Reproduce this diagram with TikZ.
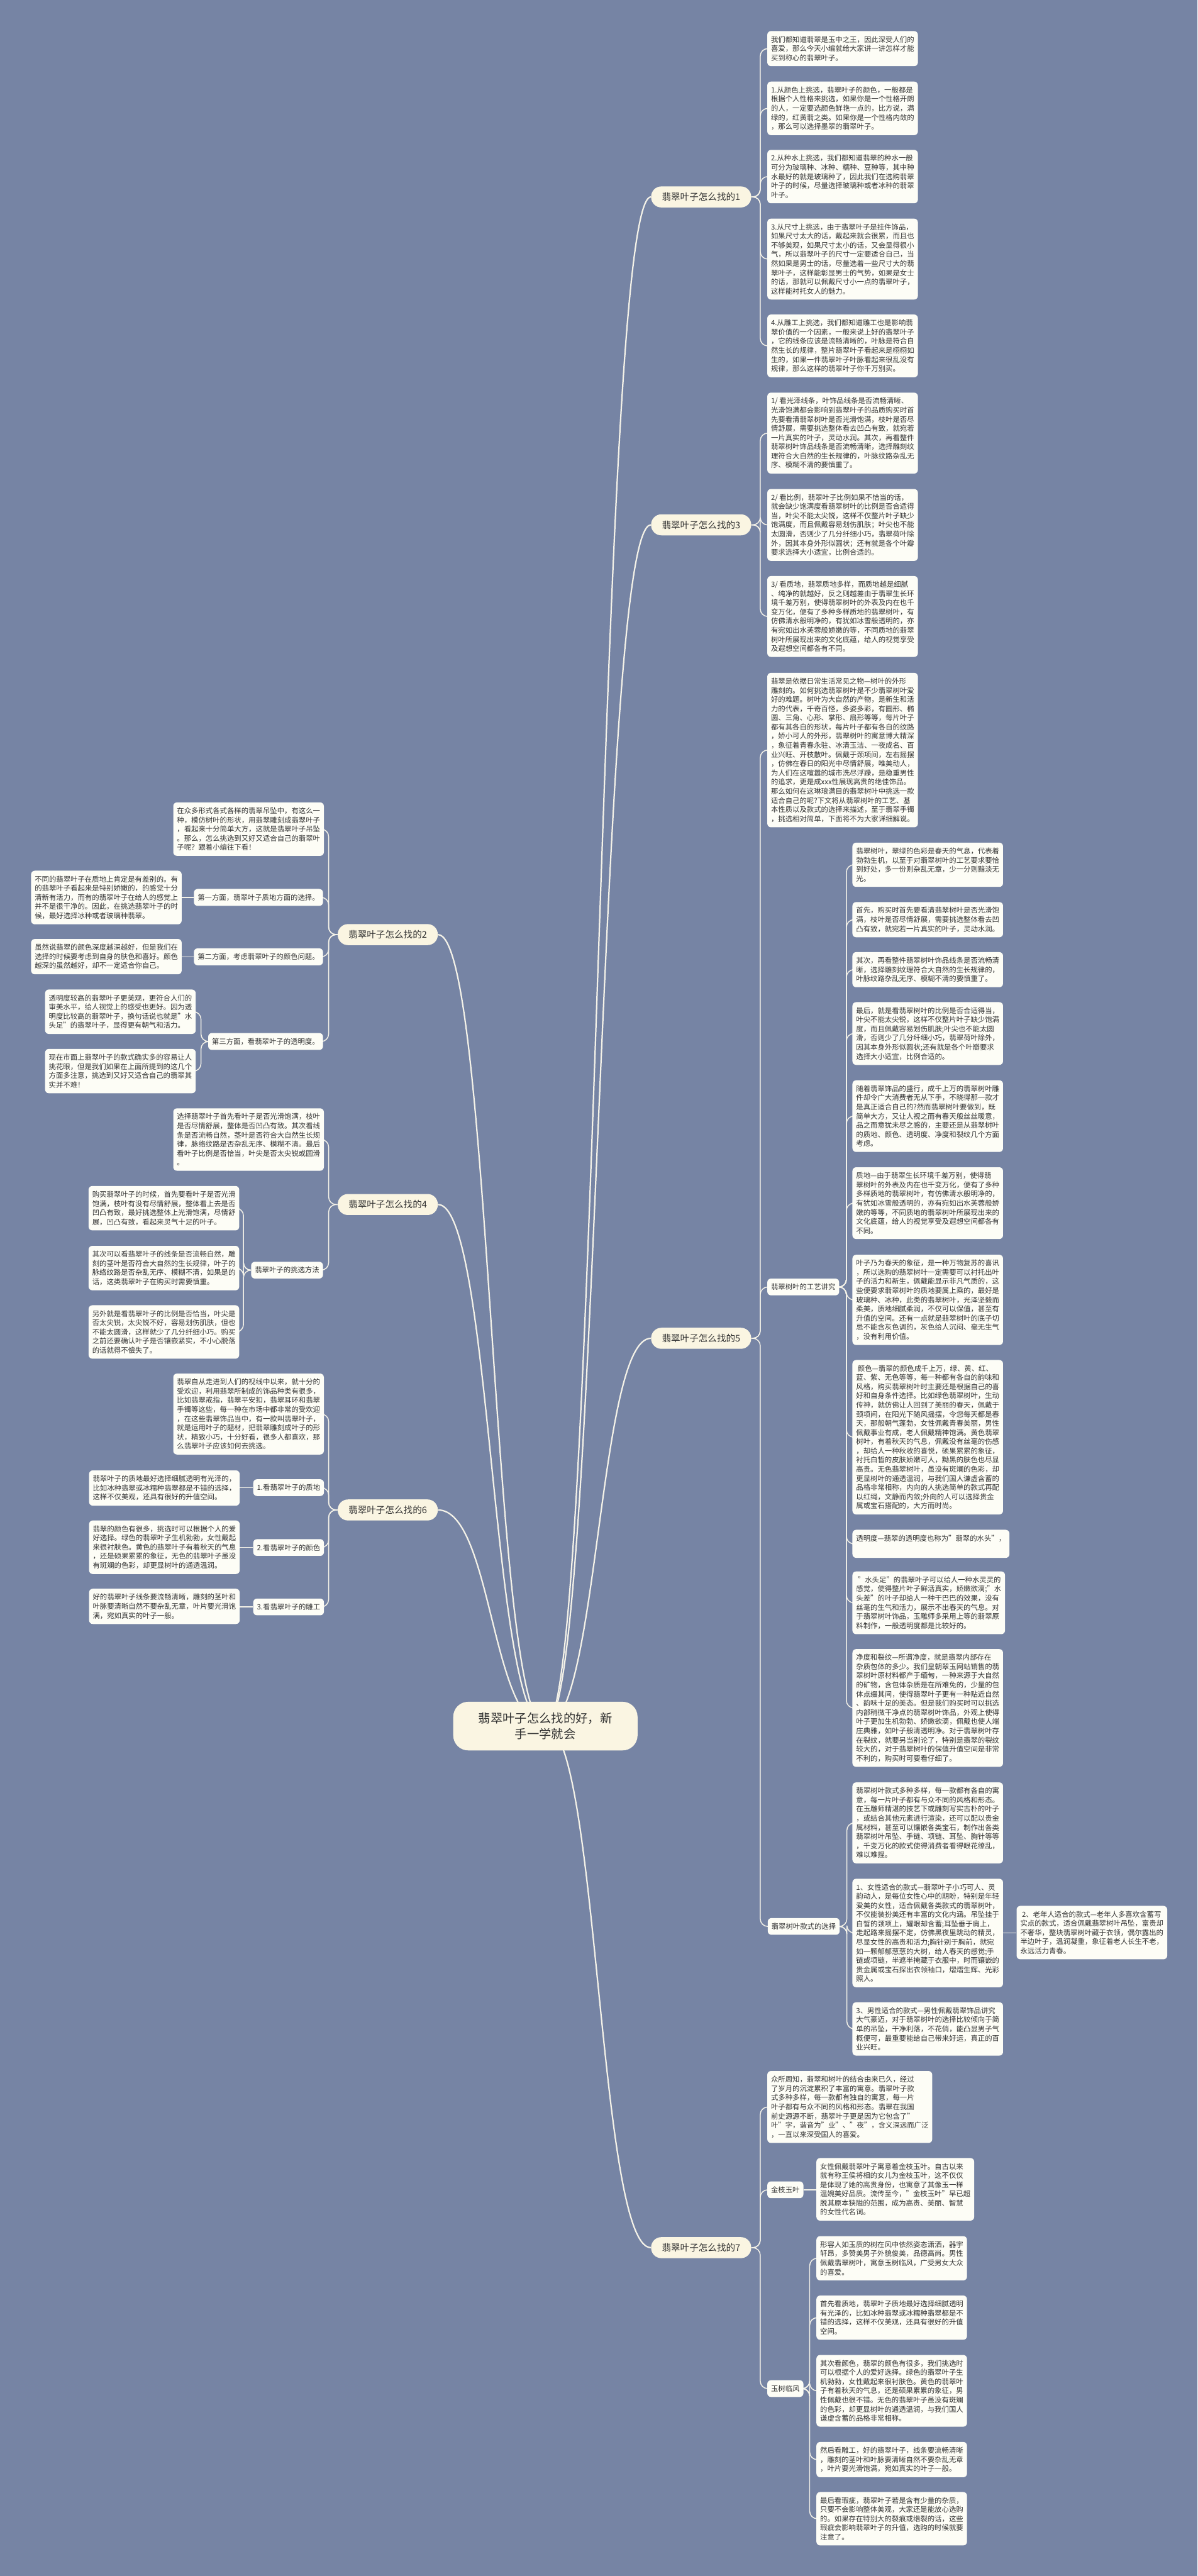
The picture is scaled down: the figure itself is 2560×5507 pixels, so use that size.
\documentclass[tikz,border=0pt]{standalone}
\usepackage{fontspec}
\setmainfont{Noto Sans CJK SC}
\usetikzlibrary{calc}
\pgfdeclarelayer{bg}
\pgfsetlayers{bg,main}
\definecolor{bgc}{RGB}{118,132,164}
\definecolor{boxc}{RGB}{253,253,246}
\definecolor{brc}{RGB}{250,245,226}
\definecolor{linec}{RGB}{244,242,232}
\definecolor{txt}{RGB}{50,50,50}
\newcommand\fsbox{\fontsize{7.65pt}{9.8pt}\selectfont}
\newcommand\fsbr{\fontsize{9.8pt}{12pt}\selectfont}
\newcommand\fsroot{\fontsize{13pt}{17pt}\selectfont}
\tikzset{
 box/.style={fill=boxc, rounded corners=4pt, align=left, text=txt, font=\fsbox, inner xsep=4pt, inner ysep=5.4pt, anchor=north west, minimum width=161pt},
 labr/.style={fill=boxc, rounded corners=4pt, text=txt, font=\fsbox, inner xsep=4pt, inner ysep=5.4pt, anchor=north west},
 labl/.style={labr, anchor=north east},
 br/.style={fill=brc, rounded corners=11pt, text=txt, font=\fsbr, inner xsep=6pt, inner ysep=6.5pt, minimum width=107pt, minimum height=22.5pt},
 rootn/.style={fill=brc, rounded corners=16pt, text=txt, font=\fsroot, align=center, minimum width=197pt, minimum height=52pt},
 conn/.style={draw=linec, line width=1pt, rounded corners=8pt},
 rconn/.style={draw=linec, line width=1.5pt},
}
\begin{document}
\begin{tikzpicture}[x=0.5pt,y=-0.5pt]
\useasboundingbox (0,0) rectangle (2560,5507);
% root and main branches
\node[rootn] (root) at (1166,3690) {翡翠叶子怎么找的好，新\\手一学就会};
\node[br] (b1) at (1499,421) {翡翠叶子怎么找的1};
\node[br] (b3) at (1499,1122) {翡翠叶子怎么找的3};
\node[br] (b5) at (1499,2861) {翡翠叶子怎么找的5};
\node[br] (b7) at (1499,4805) {翡翠叶子怎么找的7};
\node[br] (b2) at (829,1998) {翡翠叶子怎么找的2};
\node[br] (b4) at (829,2575) {翡翠叶子怎么找的4};
\node[br] (b6) at (829,3228) {翡翠叶子怎么找的6};
% ---------- branch 1
\node[box] (r1a) at (1640,66) {我们都知道翡翠是玉中之王，因此深受人们的\\喜爱，那么今天小编就给大家讲一讲怎样才能\\买到称心的翡翠叶子。};
\node[box] (r1b) at (1640,174) {1.从颜色上挑选，翡翠叶子的颜色，一般都是\\根据个人性格来挑选，如果你是一个性格开朗\\的人，一定要选颜色鲜艳一点的，比方说，满\\绿的，红黄翡之类。如果你是一个性格内敛的\\，那么可以选择墨翠的翡翠叶子。};
\node[box] (r1c) at (1640,320) {2.从种水上挑选，我们都知道翡翠的种水一般\\可分为玻璃种、冰种、糯种、豆种等，其中种\\水最好的就是玻璃种了，因此我们在选购翡翠\\叶子的时候，尽量选择玻璃种或者冰种的翡翠\\叶子。};
\node[box] (r1d) at (1640,467) {3.从尺寸上挑选，由于翡翠叶子是挂件饰品，\\如果尺寸太大的话，戴起来就会很累，而且也\\不够美观，如果尺寸太小的话，又会显得很小\\气，所以翡翠叶子的尺寸一定要适合自己，当\\然如果是男士的话，尽量选着一些尺寸大的翡\\翠叶子，这样能彰显男士的气势，如果是女士\\的话，那就可以佩戴尺寸小一点的翡翠叶子，\\这样能衬托女人的魅力。};
\node[box] (r1e) at (1640,672) {4.从雕工上挑选，我们都知道雕工也是影响翡\\翠价值的一个因素，一般来说上好的翡翠叶子\\，它的线条应该是流畅清晰的，叶脉是符合自\\然生长的规律，整片翡翠叶子看起来是栩栩如\\生的，如果一件翡翠叶子叶脉看起来很乱没有\\规律，那么这样的翡翠叶子你千万别买。};
% ---------- branch 3
\node[box] (r3a) at (1640,839) {1/ 看光泽线条，叶饰品线条是否流畅清晰、\\光滑饱满都会影响到翡翠叶子的品质购买时首\\先要看清翡翠树叶是否光滑饱满，枝叶是否尽\\情舒展，需要挑选整体看去凹凸有致，就宛若\\一片真实的叶子，灵动水润。其次，再看整件\\翡翠树叶饰品线条是否流畅清晰，选择雕刻纹\\理符合大自然的生长规律的，叶脉纹路杂乱无\\序、模糊不清的要慎重了。};
\node[box] (r3b) at (1640,1045) {2/ 看比例，翡翠叶子比例如果不恰当的话，\\就会缺少饱满度看翡翠树叶的比例是否合适得\\当，叶尖不能太尖锐，这样不仅整片叶子缺少\\饱满度，而且佩戴容易划伤肌肤；叶尖也不能\\太圆滑，否则少了几分纤细小巧，翡翠荷叶除\\外，因其本身外形似圆状；还有就是各个叶瓣\\要求选择大小适宜，比例合适的。};
\node[box] (r3c) at (1640,1231) {3/ 看质地，翡翠质地多样，而质地越是细腻\\、纯净的就越好，反之则越差由于翡翠生长环\\境千差万别，使得翡翠树叶的外表及内在也千\\变万化，便有了多种多样质地的翡翠树叶，有\\仿佛清水般明净的，有犹如冰雪般透明的，亦\\有宛如出水芙蓉般娇嫩的等，不同质地的翡翠\\树叶所展现出来的文化底蕴，给人的视觉享受\\及遐想空间都各有不同。};
% ---------- branch 5
\node[box] (r5a) at (1640,1438) {翡翠是依据日常生活常见之物—树叶的外形\\雕刻的。如何挑选翡翠树叶是不少翡翠树叶爱\\好的难题。树叶为大自然的产物，是新生和活\\力的代表，千奇百怪，多姿多彩，有圆形、椭\\圆、三角、心形、掌形、扇形等等，每片叶子\\都有其各自的形状，每片叶子都有各自的纹路\\，娇小可人的外形，翡翠树叶的寓意博大精深\\，象征着青春永驻、冰清玉洁、一夜成名、百\\业兴旺、开枝散叶。佩戴于颈项间，左右摇摆\\，仿佛在春日的阳光中尽情舒展，唯美动人，\\为人们在这喧嚣的城市洗尽浮躁，是稳重男性\\的追求，更是成xxx性展现高贵的绝佳饰品。\\那么如何在这琳琅满目的翡翠树叶中挑选一款\\适合自己的呢?下文将从翡翠树叶的工艺、基\\本性质以及款式的选择来描述，至于翡翠手镯\\，挑选相对简单，下面将不为大家详细解说。};
\node[labr] (g) at (1640,2733) {翡翠树叶的工艺讲究};
\node[box] (s1) at (1822,1801) {翡翠树叶，翠绿的色彩是春天的气息，代表着\\勃勃生机，以至于对翡翠树叶的工艺要求要恰\\到好处，多一份则杂乱无章，少一分则黯淡无\\光。};
\node[box] (s2) at (1822,1928) {首先，购买时首先要看清翡翠树叶是否光滑饱\\满，枝叶是否尽情舒展，需要挑选整体看去凹\\凸有致，就宛若一片真实的叶子，灵动水润。};
\node[box] (s3) at (1822,2035) {其次，再看整件翡翠树叶饰品线条是否流畅清\\晰，选择雕刻纹理符合大自然的生长规律的，\\叶脉纹路杂乱无序、模糊不清的要慎重了。};
\node[box] (s4) at (1822,2142) {最后，就是看翡翠树叶的比例是否合适得当，\\叶尖不能太尖锐，这样不仅整片叶子缺少饱满\\度，而且佩戴容易划伤肌肤;叶尖也不能太圆\\滑，否则少了几分纤细小巧，翡翠荷叶除外，\\因其本身外形似圆状;还有就是各个叶瓣要求\\选择大小适宜，比例合适的。};
\node[box] (s5) at (1822,2309) {随着翡翠饰品的盛行，成千上万的翡翠树叶雕\\件却令广大消费者无从下手，不晓得那一款才\\是真正适合自己的?然而翡翠树叶要做到，既\\简单大方，又让人视之而有春天般丝丝暖意，\\品之而意犹未尽之感的，主要还是从翡翠树叶\\的质地、颜色、透明度、净度和裂纹几个方面\\考虑。};
\node[box] (s6) at (1822,2495) {质地—由于翡翠生长环境千差万别，使得翡\\翠树叶的外表及内在也千变万化，便有了多种\\多样质地的翡翠树叶，有仿佛清水般明净的，\\有犹如冰雪般透明的，亦有宛如出水芙蓉般娇\\嫩的等等，不同质地的翡翠树叶所展现出来的\\文化底蕴，给人的视觉享受及遐想空间都各有\\不同。};
\node[box] (s7) at (1822,2682) {叶子乃为春天的象征，是一种万物复苏的喜讯\\，所以选购的翡翠树叶一定需要可以衬托出叶\\子的活力和新生，佩戴能显示非凡气质的，这\\些便要求翡翠树叶的质地要属上乘的，最好是\\玻璃种、冰种，此类的翡翠树叶，光泽坚毅而\\柔美，质地细腻柔润，不仅可以保值，甚至有\\升值的空间。还有一点就是翡翠树叶的底子切\\忌不能含灰色调的，灰色给人沉闷、毫无生气\\，没有利用价值。};
\node[box] (s8) at (1822,2907) {\ 颜色—翡翠的颜色成千上万，绿、黄、红、\\蓝、紫、无色等等，每一种都有各自的韵味和\\风格，购买翡翠树叶时主要还是根据自己的喜\\好和自身条件选择。比如绿色翡翠树叶，生动\\传神，就仿佛让人回到了美丽的春天，佩戴于\\颈项间，在阳光下随风摇摆，令您每天都是春\\天，那般朝气蓬勃，女性佩戴青春美丽，男性\\佩戴事业有成，老人佩戴精神饱满。黄色翡翠\\树叶，有着秋天的气息，佩戴没有丝毫的伤感\\，却给人一种秋收的喜悦，硕果累累的象征，\\衬托白皙的皮肤娇嫩可人，黝黑的肤色也尽显\\高贵。无色翡翠树叶，虽没有斑斓的色彩，却\\更显树叶的通透温润，与我们国人谦虚含蓄的\\品格非常相称，内向的人挑选简单的款式再配\\以红绳，文静而内敛;外向的人可以选择贵金\\属或宝石搭配的，大方而时尚。};
\node[box] (s9) at (1822,3270) {透明度—翡翠的透明度也称为"翡翠的水头"，\\\strut};
\node[box] (s10) at (1822,3359) {\ "水头足"的翡翠叶子可以给人一种水灵灵的\\感觉，使得整片叶子鲜活真实，娇嫩欲滴;"水\\头差"的叶子却给人一种干巴巴的效果，没有\\丝毫的生气和活力，展示不出春天的气息。对\\于翡翠树叶饰品，玉雕师多采用上等的翡翠原\\料制作，一般透明度都是比较好的。};
\node[box] (s11) at (1822,3525) {净度和裂纹—所谓净度，就是翡翠内部存在\\杂质包体的多少。我们皇朝翠玉网站销售的翡\\翠树叶原材料都产于缅甸，一种来源于大自然\\的矿物，含包体杂质是在所难免的，少量的包\\体点缀其间，使得翡翠叶子更有一种贴近自然\\、韵味十足的美态。但是我们购买时可以挑选\\内部稍微干净点的翡翠树叶饰品，外观上使得\\叶子更加生机勃勃、娇嫩欲滴，佩戴也使人端\\庄典雅，如叶子般清透明净。对于翡翠树叶存\\在裂纹，就要另当别论了，特别是翡翠的裂纹\\较大的，对于翡翠树叶的保值升值空间是非常\\不利的，购买时可要看仔细了。};
\node[labr] (k) at (1641,4100) {翡翠树叶款式的选择};
\node[box] (k1) at (1822,3810) {翡翠树叶款式多种多样，每一款都有各自的寓\\意，每一片叶子都有与众不同的风格和形态。\\在玉雕师精湛的技艺下或雕刻写实古朴的叶子\\，或结合其他元素进行渲染，还可以配以贵金\\属材料，甚至可以镶嵌各类宝石，制作出各类\\翡翠树叶吊坠、手链、项链、耳坠、胸针等等\\，千变万化的款式使得消费者看得眼花缭乱，\\难以难捏。};
\node[box] (k2) at (1822,4016) {1、女性适合的款式—翡翠叶子小巧可人、灵\\韵动人，是每位女性心中的期盼，特别是年轻\\爱美的女性，适合佩戴各类款式的翡翠树叶，\\不仅能装扮美还有丰富的文化内涵。吊坠挂于\\白皙的颈项上，耀眼却含蓄;耳坠垂于肩上，\\走起路来摇摆不定，仿佛黑夜里跳动的精灵，\\尽显女性的高贵和活力;胸针别于胸前，就宛\\如一颗郁郁葱葱的大树，给人春天的感觉;手\\链或项链，半遮半掩藏于衣服中，时而镶嵌的\\贵金属或宝石探出衣领袖口，熠熠生辉、光彩\\照人。};
\node[box] (k2c) at (2173,4074) {\ 2、老年人适合的款式—老年人多喜欢含蓄写\\实点的款式，适合佩戴翡翠树叶吊坠，富贵却\\不奢华，整块翡翠树叶藏于衣领，偶尔露出的\\半边叶子，温润凝重，象征着老人长生不老，\\永远活力青春。};
\node[box] (k3) at (1822,4280) {3、男性适合的款式—男性佩戴翡翠饰品讲究\\大气豪迈，对于翡翠树叶的选择比较倾向于简\\单的吊坠，干净利落，不花俏，能凸显男子气\\概便可，最重要能给自己带来好运，真正的百\\业兴旺。};
% ---------- branch 7
\node[box] (r7a) at (1640,4427) {众所周知，翡翠和树叶的结合由来已久，经过\\了岁月的沉淀累积了丰富的寓意。翡翠叶子款\\式多种多样，每一款都有独自的寓意，每一片\\叶子都有与众不同的风格和形态。翡翠在我国\\前史源源不断，翡翠叶子更是因为它包含了"\\叶"字，谐音为"业"、"夜"，含义深远而广泛\\，一直以来深受国人的喜爱。};
\node[labr] (j) at (1640,4663) {金枝玉叶};
\node[box] (j1) at (1745,4613) {女性佩戴翡翠叶子寓意着金枝玉叶。自古以来\\就有称王侯将相的女儿为金枝玉叶，这不仅仅\\是体现了她的高贵身份，也寓意了其像玉一样\\温婉美好品质。流传至今，"金枝玉叶"早已超\\脱其原本狭隘的范围，成为高贵、美丽、智慧\\的女性代名词。};
\node[labr] (y) at (1640,5088) {玉树临风};
\node[box] (y1) at (1745,4780) {形容人如玉质的树在风中依然姿态潇洒，器宇\\轩昂，多赞美男子外貌俊美，品德高尚。男性\\佩戴翡翠树叶，寓意玉树临风，广受男女大众\\的喜爱。};
\node[box] (y2) at (1745,4907) {首先看质地，翡翠叶子质地最好选择细腻透明\\有光泽的，比如冰种翡翠或冰糯种翡翠都是不\\错的选择，这样不仅美观，还具有很好的升值\\空间。};
\node[box] (y3) at (1745,5034) {其次看颜色，翡翠的颜色有很多，我们挑选时\\可以根据个人的爱好选择。绿色的翡翠叶子生\\机勃勃，女性戴起来很衬肤色。黄色的翡翠叶\\子有着秋天的气息，还是硕果累累的象征，男\\性佩戴也很不错。无色的翡翠叶子虽没有斑斓\\的色彩，却更显树叶的通透温润，与我们国人\\谦虚含蓄的品格非常相称。};
\node[box] (y4) at (1745,5220) {然后看雕工，好的翡翠叶子，线条要流畅清晰\\，雕刻的茎叶和叶脉要清晰自然不要杂乱无章\\，叶片要光滑饱满，宛如真实的叶子一般。};
\node[box] (y5) at (1745,5327) {最后看瑕疵，翡翠叶子若是含有少量的杂质，\\只要不会影响整体美观，大家还是能放心选购\\的。如果存在特别大的裂痕或绺裂的话，这些\\瑕疵会影响翡翠叶子的升值，选购的时候就要\\注意了。};
% ---------- branch 2
\node[box] (l2a) at (370,1715) {在众多形式各式各样的翡翠吊坠中，有这么一\\种，模仿树叶的形状，用翡翠雕刻成翡翠叶子\\，看起来十分简单大方，这就是翡翠叶子吊坠\\。那么，怎么挑选到又好又适合自己的翡翠叶\\子呢？跟着小编往下看！};
\node[labl] (f1) at (691,1900) {第一方面，翡翠叶子质地方面的选择。};
\node[box] (f1c) at (66,1861) {不同的翡翠叶子在质地上肯定是有差别的。有\\的翡翠叶子看起来是特别娇嫩的，的感觉十分\\清新有活力，而有的翡翠叶子在给人的感觉上\\并不是很干净的。因此，在挑选翡翠叶子的时\\候，最好选择冰种或者玻璃种翡翠。};
\node[labl] (f2) at (691,2027) {第二方面，考虑翡翠叶子的颜色问题。};
\node[box] (f2c) at (66,2007) {虽然说翡翠的颜色深度越深越好，但是我们在\\选择的时候要考虑到自身的肤色和喜好。颜色\\越深的虽然越好，却不一定适合你自己。};
\node[labl] (f3) at (691,2208) {第三方面，看翡翠叶子的透明度。};
\node[box] (f3a) at (96,2115) {透明度较高的翡翠叶子更美观，更符合人们的\\审美水平，给人视觉上的感受也更好。因为透\\明度比较高的翡翠叶子，换句话说也就是"水\\头足"的翡翠叶子，显得更有朝气和活力。};
\node[box] (f3b) at (96,2242) {现在市面上翡翠叶子的款式确实多的容易让人\\挑花眼，但是我们如果在上面所提到的这几个\\方面多注意，挑选到又好又适合自己的翡翠其\\实并不难！};
% ---------- branch 4
\node[box] (l4a) at (370,2369) {选择翡翠叶子首先看叶子是否光滑饱满，枝叶\\是否尽情舒展，整体是否凹凸有致。其次看线\\条是否流畅自然，茎叶是否符合大自然生长规\\律，脉络纹路是否杂乱无序、模糊不清。最后\\看叶子比例是否恰当，叶尖是否太尖锐或圆滑\\。};
\node[labl] (t) at (691,2697) {翡翠叶子的挑选方法};
\node[box] (t1) at (189,2535) {购买翡翠叶子的时候，首先要看叶子是否光滑\\饱满，枝叶有没有尽情舒展，整体看上去是否\\凹凸有致，最好挑选整体上光滑饱满，尽情舒\\展，凹凸有致，看起来灵气十足的叶子。};
\node[box] (t2) at (189,2663) {其次可以看翡翠叶子的线条是否流畅自然，雕\\刻的茎叶是否符合大自然的生长规律，叶子的\\脉络纹路是否杂乱无序、模糊不清，如果是的\\话，这类翡翠叶子在购买时需要慎重。};
\node[box] (t3) at (189,2790) {另外就是看翡翠叶子的比例是否恰当，叶尖是\\否太尖锐，太尖锐不好，容易划伤肌肤，但也\\不能太圆滑，这样就少了几分纤细小巧。购买\\之前还要确认叶子是否镶嵌紧实，不小心脱落\\的话就得不偿失了。};
% ---------- branch 6
\node[box] (l6a) at (370,2936) {翡翠自从走进到人们的视线中以来，就十分的\\受欢迎，利用翡翠所制成的饰品种类有很多，\\比如翡翠戒指，翡翠平安扣，翡翠耳环和翡翠\\手镯等这些，每一种在市场中都非常的受欢迎\\，在这些翡翠饰品当中，有一款叫翡翠叶子，\\就是运用叶子的题材，把翡翠雕刻成叶子的形\\状，精致小巧，十分好看，很多人都喜欢，那\\么翡翠叶子应该如何去挑选。};
\node[labl] (q1) at (693,3162) {1.看翡翠叶子的质地};
\node[box] (q1c) at (190,3143) {翡翠叶子的质地最好选择细腻透明有光泽的，\\比如冰种翡翠或冰糯种翡翠都是不错的选择，\\这样不仅美观，还具有很好的升值空间。};
\node[labl] (q2) at (693,3290) {2.看翡翠叶子的颜色};
\node[box] (q2c) at (190,3250) {翡翠的颜色有很多，挑选时可以根据个人的爱\\好选择。绿色的翡翠叶子生机勃勃，女性戴起\\来很衬肤色。黄色的翡翠叶子有着秋天的气息\\，还是硕果累累的象征，无色的翡翠叶子虽没\\有斑斓的色彩，却更显树叶的通透温润。};
\node[labl] (q3) at (693,3417) {3.看翡翠叶子的雕工};
\node[box] (q3c) at (190,3396) {好的翡翠叶子线条要流畅清晰，雕刻的茎叶和\\叶脉要清晰自然不要杂乱无章，叶片要光滑饱\\满，宛如真实的叶子一般。};
% ---------- connectors
\begin{pgfonlayer}{bg}
\fill[bgc] (0,0) rectangle (2560,5507);
\foreach \b in {b1,b3,b5,b7}
  \draw[rconn] (root.center) .. controls (1279,3690) and (1279,0 |- \b.west) .. (\b.west);
\foreach \b in {b2,b4,b6}
  \draw[rconn] (root.center) .. controls (1051,3690) and (1051,0 |- \b.east) .. (\b.east);
\foreach \c in {r1a,r1b,r1c,r1d,r1e} \draw[conn] (b1.east) -- ++(19,0) |- (\c.west);
\foreach \c in {r3a,r3b,r3c} \draw[conn] (b3.east) -- ++(19,0) |- (\c.west);
\foreach \c in {r5a,g,k} \draw[conn] (b5.east) -- ++(19,0) |- (\c.west);
\foreach \c in {s1,s2,s3,s4,s5,s6,s7,s8,s9,s10,s11} \draw[conn] (g.east) -- ++(15,0) |- (\c.west);
\foreach \c in {k1,k2,k3} \draw[conn] (k.east) -- ++(15,0) |- (\c.west);
\draw[conn] (k2.east) -- (k2c.west |- k2.east);
\foreach \c in {r7a,j,y} \draw[conn] (b7.east) -- ++(19,0) |- (\c.west);
\draw[conn] (j.east) -- (j1.west |- j.east);
\foreach \c in {y1,y2,y3,y4,y5} \draw[conn] (y.east) -- ++(13,0) |- (\c.west);
\foreach \c in {l2a,f1,f2,f3} \draw[conn] (b2.west) -- ++(-19,0) |- (\c.east);
\draw[conn] (f1.west) -- (f1c.east |- f1.west);
\draw[conn] (f2.west) -- (f2c.east |- f2.west);
\foreach \c in {f3a,f3b} \draw[conn] (f3.west) -- ++(-15,0) |- (\c.east);
\foreach \c in {l4a,t} \draw[conn] (b4.west) -- ++(-19,0) |- (\c.east);
\foreach \c in {t1,t2,t3} \draw[conn] (t.west) -- ++(-16,0) |- (\c.east);
\foreach \c in {l6a,q1,q2,q3} \draw[conn] (b6.west) -- ++(-19,0) |- (\c.east);
\draw[conn] (q1.west) -- (q1c.east |- q1.west);
\draw[conn] (q2.west) -- (q2c.east |- q2.west);
\draw[conn] (q3.west) -- (q3c.east |- q3.west);
\end{pgfonlayer}
\end{tikzpicture}
\end{document}
